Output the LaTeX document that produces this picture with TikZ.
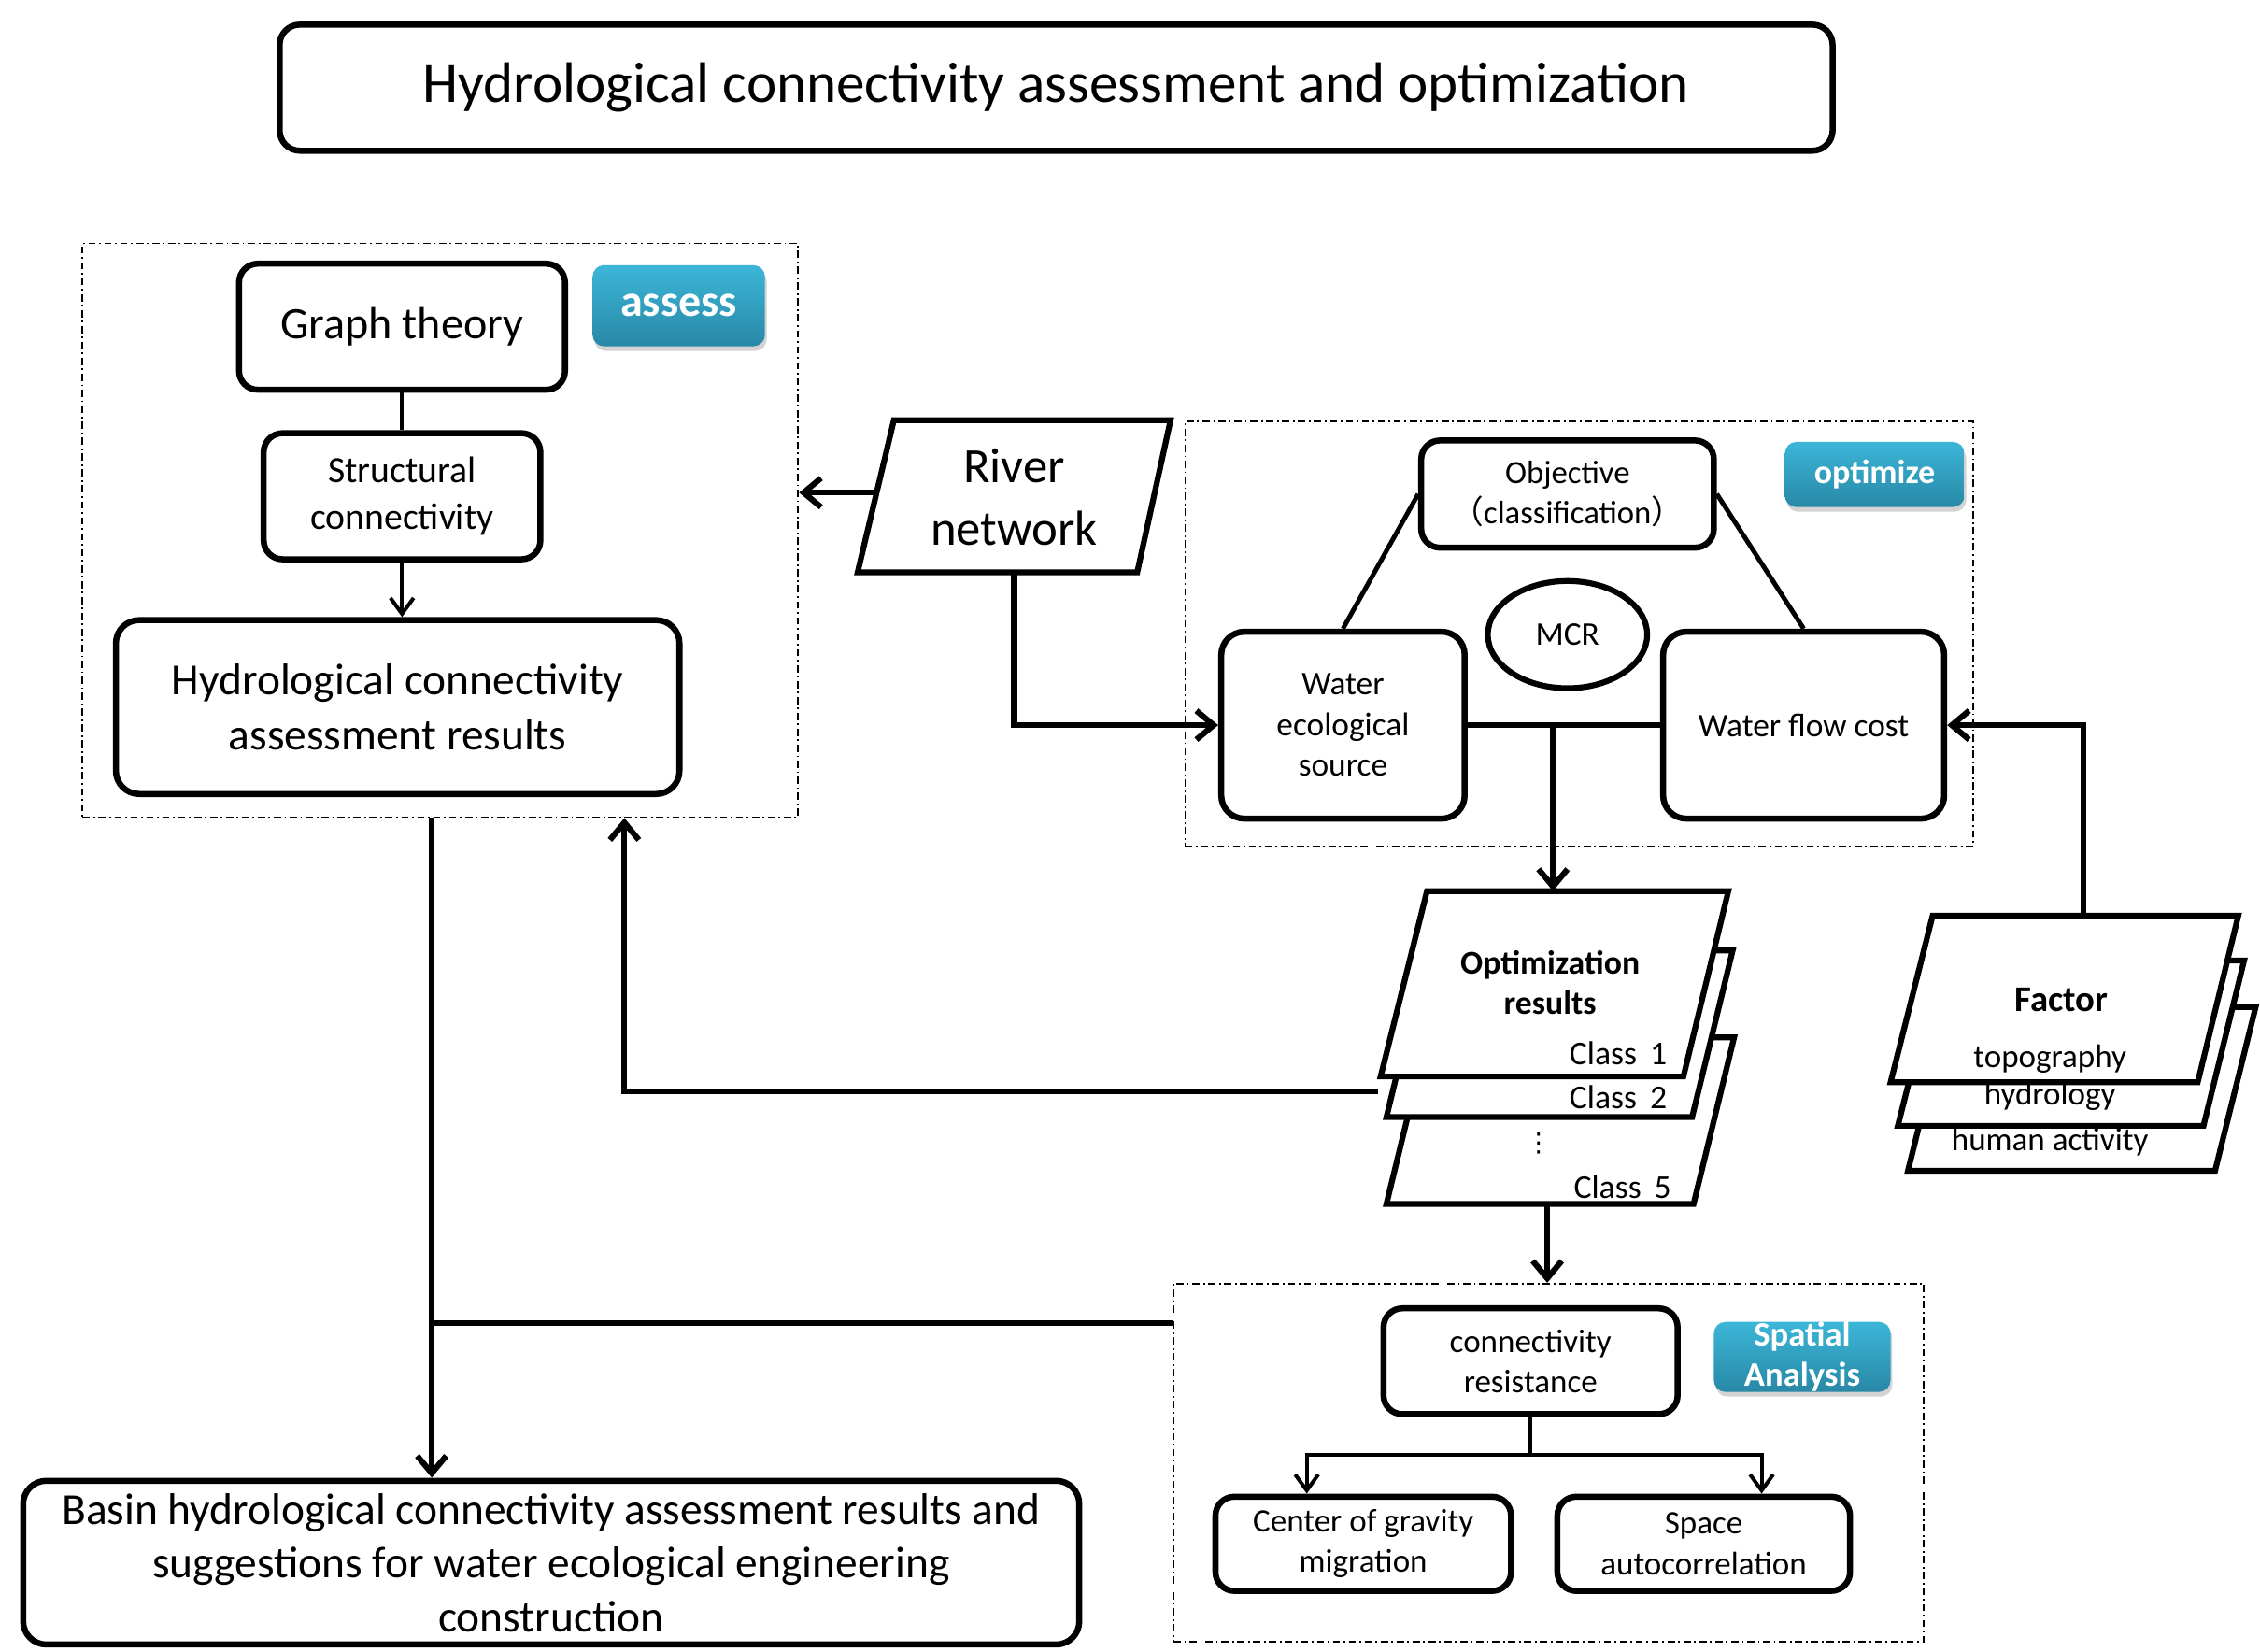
\documentclass[tikz,border=0pt]{standalone}
\usepackage{fontspec}
\setmainfont{Carlito}
\newfontfamily\cjk{Noto Sans CJK SC}
\newfontfamily\symfnt{DejaVu Sans}
\usetikzlibrary{arrows.meta,shadows,shapes.geometric}

\definecolor{badgetop}{RGB}{60,182,216}
\definecolor{badgebot}{RGB}{40,136,166}

\tikzset{
  rbox/.style={draw, line width=2.1pt, rounded corners=6.5pt, align=center, inner sep=0pt, fill=white},
  dashframe/.style={draw, line width=0.6pt, dash pattern=on 2.5pt off 1.2pt on 0.6pt off 1.2pt, inner sep=0pt},
  badge/.style={rounded corners=4pt, top color=badgetop, bottom color=badgebot, text=white, align=center, inner sep=0pt,
    drop shadow={opacity=0.35, shadow xshift=0.6pt, shadow yshift=-1.6pt}},
  card/.style={draw, line width=2pt, fill=white},
  conn/.style={line width=2pt},
  arr/.style={line width=2pt, -{Straight Barb[length=6pt,width=10pt]}},
  tarr/.style={line width=1.3pt, -{Straight Barb[length=5.5pt,width=8pt]}},
  classtxt/.style={anchor=east, inner sep=0.5pt, font=\fsz{11.5}{14}},
  factxt/.style={inner sep=1pt, font=\fsz{11.3}{14}},
}
\newcommand{\fsz}[2]{\fontsize{#1pt}{#2pt}\selectfont}

\begin{document}
\begin{tikzpicture}[x=0.5pt,y=-0.5pt]
\useasboundingbox (0,0) rectangle (1560,1140);

% Title
\node[rbox, rounded corners=7pt, minimum width=536pt, minimum height=43.5pt, font=\fsz{19.7}{23}] (title) at (729,60.5) {Hydrological connectivity assessment and optimization};

% assess part
\node[dashframe, minimum width=247pt, minimum height=198pt] (assess) at (304,366) {};
\node[rbox, minimum width=112.5pt, minimum height=43.5pt, font=\fsz{15.5}{18}] (graph) at (277.5,225.5) {Graph theory};
\node[badge, minimum width=59.5pt, minimum height=28pt, font=\bfseries\fsz{15.5}{18}] (badgeA) at (468.5,211) {assess};
\node[rbox, minimum width=95.5pt, minimum height=43.5pt, font=\fsz{12.8}{16}] (struct) at (277.5,342.5) {Structural\\connectivity};
\node[rbox, rounded corners=8pt, minimum width=194.5pt, minimum height=60pt, font=\fsz{15.3}{19}] (hydro) at (274.5,488) {Hydrological connectivity\\assessment results};

% River network
\draw[card] (617,290) -- (808,290) -- (785,395) -- (592,395) -- cycle;
\node[align=center, font=\fsz{17}{21.5}] (river) at (700,343) {River\\network};
\coordinate (river-w) at (605,340);
\coordinate (river-s) at (700,395);

% optimize part
\node[dashframe, minimum width=272pt, minimum height=146.5pt] (optim) at (1090,437.5) {};
\node[rbox, minimum width=101pt, minimum height=37pt, font=\fsz{11.2}{14}] (obj) at (1082,341) {Objective\\{\cjk （}classification{\cjk ）}};
\node[badge, minimum width=62pt, minimum height=22.5pt, font=\bfseries\fsz{11.6}{14}] (badgeO) at (1294,327.5) {optimize};
\node[draw, ellipse, line width=2pt, minimum width=55pt, minimum height=37pt, inner sep=0pt, font=\fsz{11.4}{14}] (mcr) at (1082,438) {MCR};
\node[rbox, rounded corners=8pt, minimum width=84pt, minimum height=64.5pt, font=\fsz{11.4}{14}] (weco) at (927,500.5) {Water\\ecological\\source};
\node[rbox, rounded corners=8pt, minimum width=97pt, minimum height=64.5pt, font=\fsz{11.4}{14}] (wflow) at (1245,500.5) {Water flow cost};

% Optimization results stack
\draw[card] (985,716) -- (1197,716) -- (1169,831) -- (957,831) -- cycle;
\draw[card] (985,656) -- (1196,656) -- (1168,771) -- (957,771) -- cycle;
\draw[card] (985,615) -- (1193,615) -- (1162,743) -- (953,743) -- cycle;
\node[align=center, font=\bfseries\fsz{11.5}{14}] (opt) at (1070,678) {Optimization\\results};
\node[classtxt] (cls1) at (1152,727) {Class~\,1};
\node[classtxt] (cls2) at (1152,757) {Class~\,2};
\node[inner sep=0pt, font=\symfnt\fsz{9}{10}] (dots) at (1062,789) {⋮};
\node[classtxt] (cls5) at (1155,819) {Class~\,5};
\coordinate (opt-n) at (1072,615);
\coordinate (opt-w) at (951,753);
\coordinate (opt-s) at (1068,831);

% Factor stack
\draw[card] (1345,695) -- (1557,695) -- (1529,808) -- (1317,808) -- cycle;
\draw[card] (1339,663) -- (1549,663) -- (1521,777) -- (1310,777) -- cycle;
\draw[card] (1334,632) -- (1545,632) -- (1517,747) -- (1305,747) -- cycle;
\node[font=\bfseries\fsz{12.5}{14}] (factor) at (1423,690) {Factor};
\node[factxt] (topo) at (1415,731) {topography};
\node[factxt] (hydr) at (1415,757) {hydrology};
\node[factxt] (human) at (1415,788) {human activity};
\coordinate (fac-n) at (1438,632);

% Spatial analysis part
\node[dashframe, minimum width=259pt, minimum height=123.5pt] (spatial) at (1069,1009.5) {};
\node[rbox, minimum width=101.5pt, minimum height=36.5pt, font=\fsz{11.3}{14}] (conres) at (1056.5,939.5) {connectivity\\resistance};
\node[badge, minimum width=61pt, minimum height=23.5pt, font=\bfseries\fsz{11.8}{14}] (badgeS) at (1244,936.5) {Spatial\\Analysis};
\node[rbox, minimum width=102pt, minimum height=32.5pt, font=\fsz{11.3}{14}] (cog) at (941,1065.5) {Center of gravity\\migration};
\node[rbox, minimum width=101pt, minimum height=32.5pt, font=\fsz{11.3}{14}] (sac) at (1176,1065.5) {Space\\autocorrelation};

% Result
\node[rbox, rounded corners=8pt, minimum width=364.5pt, minimum height=56.5pt, font=\fsz{15.3}{18.5}] (basin) at (380.5,1078.5) {Basin hydrological connectivity assessment results and\\suggestions for water ecological engineering\\construction};

% Connectors
\draw[line width=1.3pt] (graph) -- (struct);
\draw[tarr] (struct.south) -- (struct.south |- hydro.north);
\draw[arr] (river-w) -- (river-w -| assess.east);
\draw[arr] (river-s) |- (weco.west);
\draw[line width=1.6pt] (obj.west) -- (weco.north);
\draw[line width=1.6pt] (obj.east) -- (wflow.north);
\draw[conn] (weco.east) -- (wflow.west);
\draw[arr] (weco.east -| opt-n) -- (opt-n);
\draw[arr] (opt-w) -| ([xshift=63.5pt]assess.south);
\draw[arr] (fac-n) |- (wflow.east);
\draw[arr] (opt-s) -- (opt-s |- spatial.north);
\draw[line width=1.3pt] (conres.south) -- ++(0,26) coordinate (fork);
\draw[tarr] (fork) -| ([xshift=-19.5pt]cog.north);
\draw[tarr] (fork) -| ([xshift=20pt]sac.north);
\coordinate (trunk) at ([xshift=-3pt]assess.south);
\draw[arr] (trunk) -- (trunk |- basin.north);
\draw[conn] ([yshift=48.25pt]spatial.west) -- ([yshift=48.25pt]spatial.west -| trunk);
\end{tikzpicture}
\end{document}
